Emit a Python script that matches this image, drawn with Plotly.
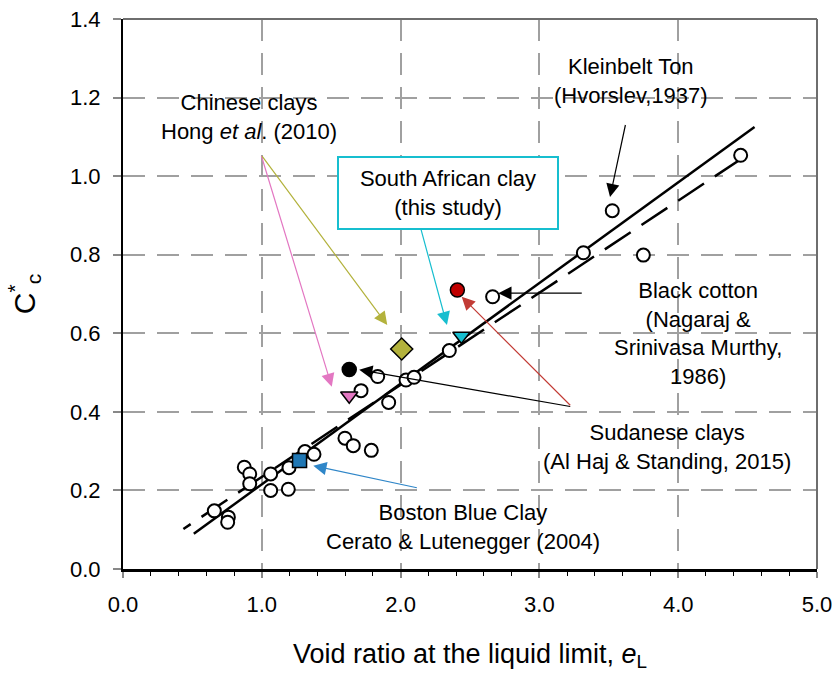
import plotly.graph_objects as go

# ---- data ----
open_x = [0.658, 0.759, 0.754, 0.874, 0.913, 0.913, 1.064, 1.064, 1.196, 1.191, 1.311, 1.376,
          1.599, 1.659, 1.789, 1.715, 1.835, 1.914, 2.039, 2.097, 2.351, 2.663, 3.317, 3.749,
          3.525, 4.450]
open_y = [0.148, 0.132, 0.119, 0.259, 0.242, 0.217, 0.242, 0.200, 0.258, 0.203, 0.299, 0.292,
          0.333, 0.314, 0.302, 0.454, 0.490, 0.424, 0.481, 0.488, 0.556, 0.693, 0.805, 0.799,
          0.912, 1.053]

chinese_tri_x = [1.630]; chinese_tri_y = [0.441]
chinese_dia_x = [2.008]; chinese_dia_y = [0.560]
sa_x = [2.438]; sa_y = [0.593]
sudan_black_x = [1.630]; sudan_black_y = [0.508]
sudan_red_x = [2.409]; sudan_red_y = [0.710]
boston_x = [1.272]; boston_y = [0.276]

solid_x = [0.51, 4.55]; solid_y = [0.090, 1.125]
dashed_x = [4.45, 0.435]; dashed_y = [1.043, 0.102]

x_ticks = [0, 1, 2, 3, 4, 5]
y_ticks = [0, 0.2, 0.4, 0.6, 0.8, 1.0, 1.2, 1.4]

FONT = "Liberation Sans, Arial, sans-serif"
PINK = "#e377c2"; OLIVE = "#b3b23c"; CYAN = "#17becf"; RED = "#c00000"
REDARROW = "#c23b35"; BLUE = "#1f77b4"; BLUEARROW = "#2f86c8"

fig = go.Figure()

fig.add_trace(go.Scatter(x=solid_x, y=solid_y, mode="lines",
                         line=dict(color="black", width=2.5), showlegend=False))
fig.add_trace(go.Scatter(x=dashed_x, y=dashed_y, mode="lines",
                         line=dict(color="black", width=2.5, dash="31px,13px"), showlegend=False))

fig.add_trace(go.Scatter(x=open_x, y=open_y, mode="markers",
                         marker=dict(symbol="circle", size=13, color="white",
                                     line=dict(color="black", width=2)), showlegend=False))

def pt(x, y, symbol, color, size):
    fig.add_trace(go.Scatter(x=x, y=y, mode="markers",
                             marker=dict(symbol=symbol, size=size, color=color,
                                         line=dict(color="black", width=1.5)), showlegend=False))

pt(chinese_tri_x, chinese_tri_y, "triangle-down", PINK, 15)
pt(chinese_dia_x, chinese_dia_y, "diamond", OLIVE, 17)
pt(sa_x, sa_y, "triangle-down", CYAN, 15)
pt(sudan_black_x, sudan_black_y, "circle", "black", 14)
pt(sudan_red_x, sudan_red_y, "circle", RED, 14)
pt(boston_x, boston_y, "square", BLUE, 14)

ann = []

def arrow(tail, head, color, width=1.2):
    ann.append(dict(x=head[0], y=head[1], ax=tail[0], ay=tail[1], xref="x", yref="y",
                    axref="x", ayref="y", text="", showarrow=True, arrowhead=2,
                    arrowsize=2.2, arrowwidth=width, arrowcolor=color, standoff=0))

def label(x, y, text, **kw):
    d = dict(x=x, y=y, xref="x", yref="y", text=text, showarrow=False,
             font=dict(family=FONT, size=22, color="black"), align="center")
    d.update(kw)
    ann.append(d)

label(3.660, 1.241, "Kleinbelt Ton<br>(Hvorslev,1937)")
arrow((3.622, 1.134), (3.509, 0.947), "black")

label(0.911, 1.151, "Chinese clays<br>Hong <i>et al</i>. (2010)")
arrow((0.994, 1.055), (1.504, 0.464), PINK)
arrow((0.994, 1.055), (1.904, 0.621), OLIVE)

label(2.342, 0.957, "South African clay<br>(this study)", bordercolor=CYAN, borderwidth=2,
      borderpad=2, bgcolor="white", width=214, height=66)
arrow((2.145, 0.867), (2.334, 0.621), CYAN)

label(4.143, 0.600, "Black cotton<br>(Nagaraj &amp;<br>Srinivasa Murthy,<br>1986)")
arrow((3.316, 0.702), (2.704, 0.702), "black")

label(3.917, 0.311, "Sudanese clays<br>(Al Haj &amp; Standing, 2015)")
arrow((3.233, 0.413), (1.702, 0.507), "black")
arrow((3.233, 0.413), (2.440, 0.693), REDARROW)

label(2.446, 0.106, "Boston Blue Clay<br>Cerato &amp; Lutenegger (2004)")
arrow((2.128, 0.206), (1.371, 0.263), BLUEARROW)

fig.update_layout(
    width=835, height=683,
    margin=dict(l=123, r=18, t=19, b=114, autoexpand=False),
    paper_bgcolor="white", plot_bgcolor="white",
    font=dict(family=FONT, size=22, color="black"),
    annotations=ann,
    shapes=[
        dict(type="line", xref="paper", yref="paper", x0=0, x1=1, y0=1, y1=1,
             line=dict(color="#6e6e6e", width=2)),
        dict(type="line", xref="paper", yref="paper", x0=1, x1=1, y0=0, y1=1,
             line=dict(color="#6e6e6e", width=2)),
    ],
    xaxis=dict(range=[0, 5], tickvals=x_ticks, tickformat=".1f", automargin=False,
               showgrid=True, gridcolor="#a0a0a0", gridwidth=1.5, griddash="22px,12px",
               showline=True, linecolor="black", linewidth=2.5, zeroline=False,
               ticks="outside", ticklen=6, tickcolor="#888", tickwidth=1.5,
               minor=dict(dtick=0.2, ticks="outside", ticklen=4, tickcolor="black", tickwidth=1.2,
                          showgrid=False),
               ticklabelstandoff=8,
               tickfont=dict(size=22),
               title=dict(text="Void ratio at the liquid limit, <i>e</i><sub>L</sub>",
                          font=dict(size=27), standoff=28)),
    yaxis=dict(range=[0, 1.4], tickvals=y_ticks, tickformat=".1f", automargin=False,
               showgrid=True, gridcolor="#a0a0a0", gridwidth=1.5, griddash="22px,12px",
               showline=True, linecolor="black", linewidth=2, zeroline=False,
               ticks="outside", ticklen=8, tickcolor="#888", tickwidth=1.5,
               ticklabelstandoff=8,
               tickfont=dict(size=22),
               title=dict(text="C<sup>*</sup><sub>c</sub>", font=dict(size=30), standoff=26)),
)

fig.write_html("out.html")
